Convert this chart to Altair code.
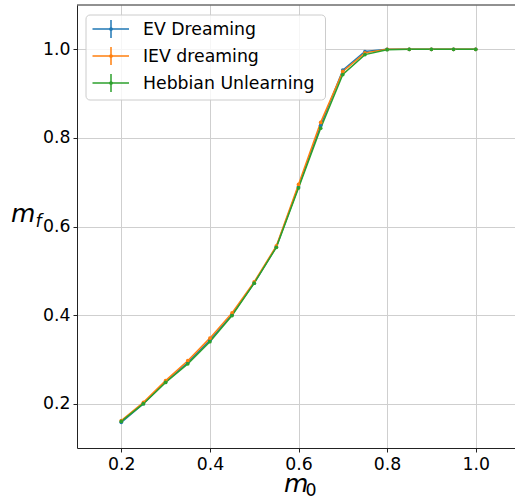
import altair as alt
import pandas as pd

m0 = [0.2, 0.25, 0.3, 0.35, 0.4, 0.45, 0.5, 0.55, 0.6, 0.65, 0.7, 0.75, 0.8, 0.85, 0.9, 0.95, 1.0]
ev_dreaming = [0.158, 0.200, 0.249, 0.293, 0.343, 0.401, 0.472, 0.554, 0.690, 0.828, 0.953, 0.995, 1.0, 1.0, 1.0, 1.0, 1.0]
iev_dreaming = [0.162, 0.203, 0.252, 0.297, 0.348, 0.405, 0.475, 0.556, 0.695, 0.835, 0.950, 0.992, 1.0, 1.0, 1.0, 1.0, 1.0]
hebbian = [0.160, 0.200, 0.248, 0.290, 0.340, 0.399, 0.472, 0.553, 0.687, 0.822, 0.943, 0.988, 0.999, 1.0, 1.0, 1.0, 1.0]

series_names = ["EV Dreaming", "IEV dreaming", "Hebbian Unlearning"]
series_values = [ev_dreaming, iev_dreaming, hebbian]
colors = ["#1f77b4", "#ff7f0e", "#2ca02c"]
ticks = [0.2, 0.4, 0.6, 0.8, 1.0]

rows = []
for order, (name, vals) in enumerate(zip(series_names, series_values)):
    for x, y in zip(m0, vals):
        rows.append({"m0": x, "mf": y, "series": name, "order": order})
df = pd.DataFrame(rows)

W, H = 438, 443
xscale = alt.Scale(domain=[0.1, 0.1 + W / 443.0], nice=False, zero=False)
yscale = alt.Scale(domain=[0.1, 1.1], nice=False, zero=False)
cscale = alt.Scale(domain=series_names, range=colors)

one = pd.DataFrame({"y": [1.1]})

frame = alt.Chart(one).mark_rect(
    fill="white", fillOpacity=0.8, stroke="#cccccc", strokeWidth=1, cornerRadius=4
).encode(x=alt.value(9), x2=alt.value(248.5), y=alt.value(10), y2=alt.value(95))

lines = alt.Chart(df).mark_line(
    strokeWidth=1.5,
    point=alt.OverlayMarkDef(filled=True, size=14, opacity=1),
).encode(
    x=alt.X("m0:Q", scale=xscale,
            axis=alt.Axis(values=ticks, format=".1f", title=None)),
    y=alt.Y("mf:Q", scale=yscale,
            axis=alt.Axis(values=ticks, format=".1f", title=None)),
    color=alt.Color("series:N", scale=cscale, legend=None),
    order=alt.Order("order:Q"),
    detail="series:N",
)

# manual legend (matplotlib style errorbar handles)
legend_layers = []
for i, (name, col) in enumerate(zip(series_names, colors)):
    cy = 24 + 27 * i
    ldf = pd.DataFrame({"series": [name]})
    base = alt.Chart(ldf)
    legend_layers.append(base.mark_rule(color=col, strokeWidth=1.5).encode(
        x=alt.value(15.5), x2=alt.value(52), y=alt.value(cy)))
    legend_layers.append(base.mark_rule(color=col, strokeWidth=1.5).encode(
        x=alt.value(34), y=alt.value(cy - 9), y2=alt.value(cy + 9)))
    legend_layers.append(base.mark_point(color=col, filled=True, size=14, opacity=1).encode(
        x=alt.value(34), y=alt.value(cy)))
    legend_layers.append(base.mark_text(
        font="DejaVu Sans", fontSize=17.3, align="left", baseline="middle", color="#000000"
    ).encode(x=alt.value(66), y=alt.value(cy + 1), text="series:N"))

top_spine = alt.Chart(one).mark_rule(color="#222222", strokeWidth=1).encode(
    y=alt.Y("y:Q", scale=yscale)
)

xlab_m = alt.Chart(one).mark_text(
    text="m", font="DejaVu Sans", fontStyle="italic", fontSize=25,
    align="left", baseline="alphabetic", color="#000000"
).encode(x=alt.value(207), y=alt.value(486.5))
xlab_sub = alt.Chart(one).mark_text(
    text="0", font="DejaVu Sans", fontSize=17.4,
    align="left", baseline="alphabetic", color="#000000"
).encode(x=alt.value(228.5), y=alt.value(491))

ylab_m = alt.Chart(one).mark_text(
    text="m", font="DejaVu Sans", fontStyle="italic", fontSize=25,
    align="left", baseline="alphabetic", color="#000000"
).encode(x=alt.value(-66), y=alt.value(216.5))
ylab_sub = alt.Chart(one).mark_text(
    text="f", font="DejaVu Sans", fontStyle="italic", fontSize=17.4,
    align="left", baseline="alphabetic", color="#000000"
).encode(x=alt.value(-41.5), y=alt.value(222))

chart = alt.layer(
    frame, lines, top_spine, *legend_layers, xlab_m, xlab_sub, ylab_m, ylab_sub
).properties(
    width=W,
    height=H,
    autosize=alt.AutoSizeParams(type="none"),
    padding={"left": 77, "top": 5, "right": 0, "bottom": 52},
).configure_view(stroke=None).configure_axis(
    labelFont="DejaVu Sans",
    labelFontSize=17.3,
    labelColor="#000000",
    domainColor="#222222",
    domainWidth=1,
    tickColor="#222222",
    tickSize=4,
    tickWidth=1,
    labelPadding=3,
    grid=True,
    gridColor="#cfcfcf",
    gridWidth=1,
)

chart.save("out.html", embed_options={"renderer": "svg", "actions": False})
